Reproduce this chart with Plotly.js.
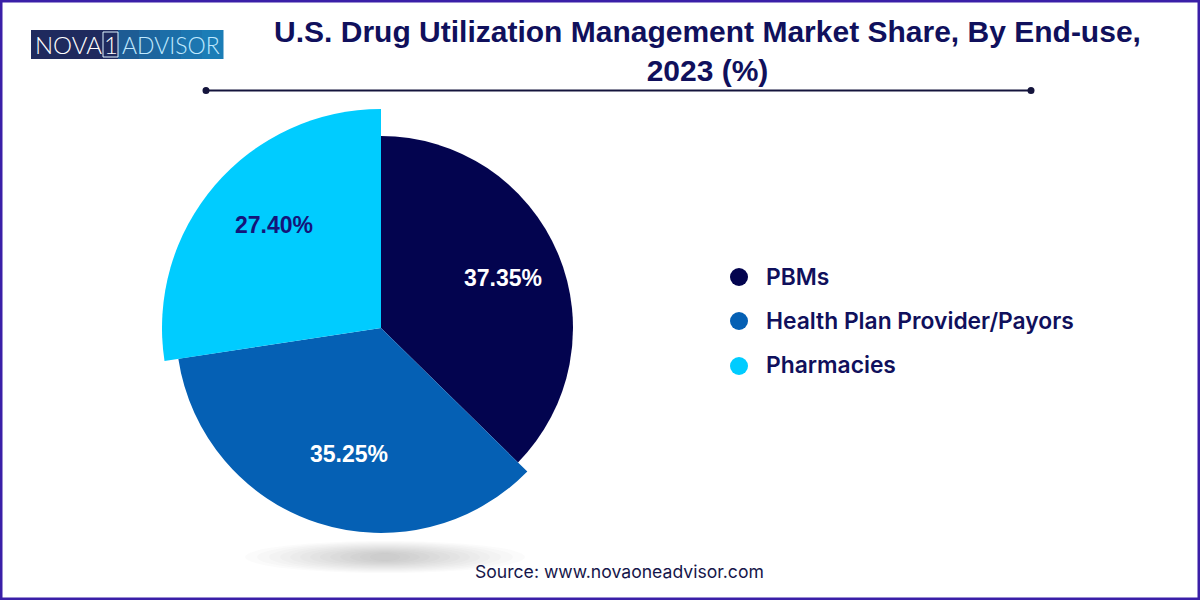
<!DOCTYPE html>
<html>
<head>
<meta charset="utf-8">
<script src="https://cdn.plot.ly/plotly-3.0.1.min.js"></script>
<style>html,body{margin:0;padding:0;background:#fff}#chart{width:1200px;height:600px}</style>
</head>
<body>
<div id="chart"></div>
<script>
// Values are the shares printed on the chart. The reference's arcs are drawn slightly
// off these numbers (about 34.9 / 35.8 / 29.3); the printed figures are kept as the data.
var categories = ['PBMs', 'Health Plan Provider/Payors', 'Pharmacies'];
var shares = [37.35, 35.25, 27.40];
var colors = ['#03044f', '#0560b4', '#00ccff'];
var labelColors = ['#ffffff', '#ffffff', '#14147a'];
var titleText = 'U.S. Drug Utilization Management Market Share, By End-use,<br>2023 (%)';
var sourceText = 'Source: www.novaoneadvisor.com';

var W = 1200, H = 600;
function px(x) { return x / W; }
function py(y) { return 1 - y / H; }

var cx = 381, cy = 328;
var radii = [192, 205, 219];
var labelPos = [[503, 278], [349, 454], [274, 225]];
var legendY = [276, 320, 365];
var legendDotX = 739, legendTextX = [764, 764, 764];
var navy = '#10105c';

var total = shares.reduce(function (a, b) { return a + b; }, 0);
var traces = [], start = 0;
shares.forEach(function (v, i) {
  var r = radii[i];
  traces.push({
    type: 'pie', sort: false, direction: 'clockwise',
    rotation: start / total * 360,
    values: [v, total - v],
    labels: [categories[i], 'rest'],
    marker: { colors: [colors[i], 'rgba(0,0,0,0)'], line: { width: 0 } },
    textinfo: 'none', hoverinfo: 'label', showlegend: false,
    domain: { x: [px(cx - r), px(cx + r)], y: [py(cy + r), py(cy - r)] }
  });
  start += v;
});

var shapes = [], annotations = [];
function rect(x0, y0, x1, y1, fill, line, lw, layer) {
  shapes.push({ type: 'rect', xref: 'paper', yref: 'paper', x0: px(x0), x1: px(x1), y0: py(y0), y1: py(y1),
    fillcolor: fill, line: { color: line || fill, width: lw === undefined ? 0 : lw }, layer: layer || 'above' });
}
function circle(x, y, rx, ry, fill, layer) {
  shapes.push({ type: 'circle', xref: 'paper', yref: 'paper', x0: px(x - rx), x1: px(x + rx), y0: py(y + ry), y1: py(y - ry),
    fillcolor: fill, line: { width: 0 }, layer: layer || 'above' });
}
function text(t, x, y, size, color, family, anchor, weight) {
  annotations.push({ text: t, xref: 'paper', yref: 'paper', x: px(x), y: py(y), xanchor: anchor || 'center', yanchor: 'middle',
    showarrow: false, font: { size: size, color: color, family: family, weight: weight || 'normal' } });
}

// frame
rect(1, 1, 1199, 599, 'rgba(0,0,0,0)', '#3a1fa8', 3);

// logo
rect(31, 30, 118, 59, '#1f2a5e');
var logoSteps = ['#1d5c94', '#1d659e', '#1c6ea8', '#1c76b0', '#1b7db6'];
logoSteps.forEach(function (c, i) { rect(118 + i * 21, 30, 118 + (i + 1) * 21 + 0.5, 59, c); });
rect(103, 32, 118, 57, 'rgba(0,0,0,0)', '#dff3ff', 1);
text('NOVA', 33, 45, 24, '#ffffff', 'Lato, sans-serif', 'left', 300);
text('1', 110.5, 45, 24, '#ffffff', 'Lato, sans-serif', 'center', 300);
text('ADVISOR', 120, 45, 23, '#bfe9ff', 'Lato, sans-serif', 'left', 300);

// rule under the title
shapes.push({ type: 'line', xref: 'paper', yref: 'paper', x0: px(206), x1: px(1031), y0: py(90.5), y1: py(90.5), line: { color: '#14143c', width: 2 } });
circle(206, 90.5, 3.5, 3.5, '#14143c');
circle(1031, 90.5, 3.5, 3.5, '#14143c');

// soft shadow below the pie
[[140, 16], [128, 15], [116, 14], [105, 13], [95, 12], [85, 11], [75, 10], [65, 9], [55, 8], [45, 7], [35, 6], [25, 5], [15, 4]].forEach(function (s) {
  circle(385, 557, s[0], s[1], 'rgba(100,100,100,0.022)', 'below');
});

// slice labels
shares.forEach(function (v, i) {
  text(v.toFixed(2) + '%', labelPos[i][0], labelPos[i][1], 23, labelColors[i], '"Liberation Sans", Arial, sans-serif', 'center', 'bold');
});

// legend
categories.forEach(function (c, i) {
  circle(legendDotX, legendY[i] + 1, 9, 9, colors[i]);
  text(c, legendTextX[i], legendY[i], 22.8, navy, 'Inter, sans-serif', 'left', 600);
});

// source
text(sourceText, 619, 571, 17.6, '#16164a', 'Inter, sans-serif');

Plotly.newPlot('chart', traces, {
  width: W, height: H,
  margin: { l: 0, r: 0, t: 0, b: 0 },
  paper_bgcolor: '#ffffff',
  title: {
    text: titleText, x: 707.5 / W, xanchor: 'center', y: 1 - 42 / H, yanchor: 'top',
    font: { family: '"Liberation Sans", Arial, sans-serif', size: 30, color: navy, weight: 'bold' }
  },
  shapes: shapes, annotations: annotations
}, { staticPlot: true });
</script>
</body>
</html>
